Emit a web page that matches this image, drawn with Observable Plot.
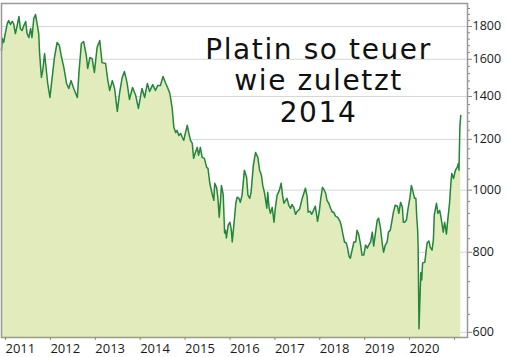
<!DOCTYPE html>
<html>
<head>
<meta charset="utf-8">
<script src="https://cdn.jsdelivr.net/npm/d3@7"></script>
<script src="https://cdn.jsdelivr.net/npm/@observablehq/plot@0.6"></script>
<style>
  html, body { margin: 0; padding: 0; background: #fff; }
  #chart { width: 506px; height: 357px; overflow: hidden; }
  svg { display: block; }
  #chart g[aria-label="text"] text { letter-spacing: 1.6px; }
</style>
</head>
<body>
<div id="chart"></div>
<script>
// Platinum price (USD/oz), decimal years
const years = [
  2010.91, 2010.93, 2010.96, 2011.00, 2011.04, 2011.07, 2011.11, 2011.15, 2011.18, 2011.22, 2011.26, 2011.30, 2011.33, 2011.37, 2011.41, 2011.45, 2011.48, 2011.52, 2011.56, 2011.59, 2011.63, 2011.67, 2011.71, 2011.74, 2011.76, 2011.80, 2011.83, 2011.87, 2011.91, 2011.94, 2011.99,
  2012.04, 2012.09, 2012.15, 2012.20, 2012.24, 2012.30, 2012.36, 2012.41, 2012.46, 2012.52, 2012.60, 2012.64, 2012.69, 2012.74, 2012.80, 2012.83, 2012.88, 2012.93, 2012.98,
  2013.04, 2013.10, 2013.15, 2013.23, 2013.28, 2013.32, 2013.38, 2013.43, 2013.49, 2013.54, 2013.60, 2013.65, 2013.71, 2013.76, 2013.83, 2013.90, 2013.96,
  2014.04, 2014.10, 2014.16, 2014.21, 2014.28, 2014.34, 2014.39, 2014.45, 2014.51, 2014.56, 2014.61, 2014.66, 2014.71, 2014.75, 2014.79, 2014.82, 2014.86, 2014.90, 2014.94, 2014.97,
  2015.01, 2015.05, 2015.08, 2015.12, 2015.16, 2015.19, 2015.23, 2015.27, 2015.30, 2015.34, 2015.38, 2015.43, 2015.48, 2015.51, 2015.55, 2015.60, 2015.64, 2015.66, 2015.70, 2015.73, 2015.76, 2015.79, 2015.81, 2015.85, 2015.88, 2015.90, 2015.92, 2015.96,
  2016.00, 2016.03, 2016.05, 2016.09, 2016.13, 2016.16, 2016.20, 2016.23, 2016.27, 2016.32, 2016.37, 2016.40, 2016.44, 2016.47, 2016.52, 2016.57, 2016.62, 2016.66, 2016.70, 2016.73, 2016.77, 2016.82, 2016.84, 2016.87, 2016.90, 2016.94, 2016.98,
  2017.01, 2017.05, 2017.10, 2017.14, 2017.17, 2017.20, 2017.24, 2017.27, 2017.31, 2017.35, 2017.38, 2017.42, 2017.46, 2017.50, 2017.55, 2017.61, 2017.66, 2017.68, 2017.72, 2017.74, 2017.78, 2017.82, 2017.86, 2017.90, 2017.93, 2017.95, 2017.99,
  2018.02, 2018.06, 2018.09, 2018.13, 2018.16, 2018.20, 2018.24, 2018.28, 2018.31, 2018.35, 2018.40, 2018.45, 2018.48, 2018.51, 2018.55, 2018.59, 2018.62, 2018.65, 2018.68, 2018.72, 2018.76, 2018.80, 2018.83, 2018.87, 2018.91, 2018.94, 2018.98,
  2019.02, 2019.06, 2019.09, 2019.13, 2019.17, 2019.20, 2019.24, 2019.28, 2019.31, 2019.35, 2019.39, 2019.42, 2019.46, 2019.50, 2019.53, 2019.57, 2019.61, 2019.64, 2019.68, 2019.73, 2019.76, 2019.80, 2019.84, 2019.86, 2019.89, 2019.93, 2019.96,
  2020.01, 2020.04, 2020.08, 2020.11, 2020.14, 2020.16, 2020.18, 2020.19, 2020.21, 2020.23, 2020.25, 2020.27, 2020.29, 2020.34, 2020.39, 2020.43, 2020.46, 2020.50, 2020.53, 2020.55, 2020.60, 2020.63, 2020.67, 2020.70, 2020.75, 2020.78, 2020.80, 2020.82, 2020.85, 2020.89, 2020.92, 2020.94, 2020.98,
  2021.02, 2021.06, 2021.09, 2021.10, 2021.12, 2021.14
];
const prices = [
  1651, 1724, 1700, 1762, 1819, 1839, 1813, 1833, 1819, 1755, 1806, 1866, 1787, 1774, 1806, 1833, 1755, 1730, 1787, 1730, 1852, 1879, 1806, 1755, 1633, 1499, 1537, 1633, 1537, 1467, 1395,
  1499, 1610, 1700, 1681, 1622, 1553, 1467, 1441, 1482, 1441, 1395, 1537, 1693, 1706, 1622, 1548, 1610, 1604, 1526,
  1669, 1712, 1581, 1576, 1482, 1430, 1482, 1441, 1327, 1415, 1499, 1531, 1467, 1385, 1446, 1405, 1341,
  1441, 1395, 1467, 1425, 1461, 1430, 1456, 1456, 1504, 1472, 1446, 1415, 1346, 1253, 1230, 1239, 1217, 1226, 1208, 1196,
  1230, 1262, 1230, 1196, 1183, 1121, 1145, 1166, 1133, 1166, 1125, 1121, 1085, 1081, 1025, 989, 964, 1025, 1010, 975, 907, 964, 1017, 982, 857, 866, 842, 882,
  891, 866, 830, 888, 954, 975, 971, 957, 982, 1074, 1047, 982, 971, 992, 1093, 1145, 1125, 1074, 1055, 1017, 989, 937, 992, 940, 920, 940, 891,
  937, 982, 999, 1025, 982, 954, 964, 971, 947, 937, 950, 940, 917, 927, 934, 971, 996, 1007, 975, 924, 927, 917, 930, 944, 914, 894, 927,
  968, 1010, 1003, 989, 964, 954, 937, 924, 924, 911, 907, 894, 879, 857, 830, 827, 812, 789, 783, 806, 830, 830, 866, 851, 821, 792, 792,
  821, 812, 821, 830, 860, 818, 857, 898, 904, 875, 827, 800, 821, 830, 860, 866, 898, 924, 947, 944, 920, 957, 940, 891, 891, 898, 930,
  975, 1017, 992, 971, 971, 907, 866, 815, 608, 673, 743, 724, 770, 772, 827, 833, 815, 806, 836, 914, 954, 920, 930, 907, 860, 891, 875, 854, 898, 954, 1025, 1062, 1043,
  1074, 1085, 1101, 1074, 1253, 1308
];
const yearTicks = [2011, 2012, 2013, 2014, 2015, 2016, 2017, 2018, 2019, 2020, 2021];
const yearLabels = ["2011", "2012", "2013", "2014", "2015", "2016", "2017", "2018", "2019", "2020", ""];
const priceTicks = [600, 800, 1000, 1200, 1400, 1600, 1800];
const priceLabels = ["600", "800", "1000", "1200", "1400", "1600", "1800"];
const minorTicks = [640, 680, 720, 760, 840, 880, 920, 960, 1040, 1080, 1120, 1160, 1240, 1280, 1320, 1360, 1440, 1480, 1520, 1560, 1640, 1680, 1720, 1760, 1840, 1880, 1920];
const titleLines = ["Platin so teuer", "wie zuletzt", "2014"];

const data = years.map((t, i) => ({t, price: prices[i]}));
const yDomain = [589, 1955];

const chart = Plot.plot({
  width: 506,
  height: 357,
  marginLeft: 1,
  marginRight: 39,
  marginTop: 3,
  marginBottom: 20,
  x: {domain: [2010.911, 2021.29]},
  y: {type: "log", domain: yDomain},
  style: {fontFamily: "'Open Sans', 'DejaVu Sans', sans-serif", fontSize: "12.5px", color: "#1a1a1a", background: "#fff"},
  marks: [
    Plot.gridY(priceTicks, {stroke: "#d6d6d6", strokeOpacity: 1, strokeWidth: 1}),
    Plot.areaY(data, {x: "t", y1: yDomain[0], y2: "price", fill: "#e1ebbb"}),
    Plot.lineY(data, {x: "t", y: "price", stroke: "#23863a", strokeWidth: 1.5}),
    Plot.frame({stroke: "#999", strokeWidth: 1.5}),
    Plot.axisY(minorTicks, {anchor: "right", tickSize: 2, tickFormat: () => "", label: null, stroke: "#888"}),
    Plot.axisY(priceTicks, {anchor: "right", tickSize: 4, tickPadding: 1, label: null, fontSize: 12.5, stroke: "#888",
      tickFormat: d => priceLabels[priceTicks.indexOf(d)]}),
    Plot.axisX(yearTicks, {anchor: "bottom", tickSize: 3, tickPadding: 3, label: null, fontSize: 13,
      tickFormat: d => yearLabels[yearTicks.indexOf(d)], textAnchor: "start", stroke: "#888"}),
    Plot.text([titleLines.join("\n")], {frameAnchor: "top-left", dx: 317, dy: 33, text: d => d,
      lineAnchor: "top", lineHeight: 1.125, fontSize: 28, fontFamily: "'DejaVu Sans', sans-serif",
      textAnchor: "middle", fill: "#111"})
  ]
});
document.getElementById("chart").appendChild(chart);
</script>
</body>
</html>
